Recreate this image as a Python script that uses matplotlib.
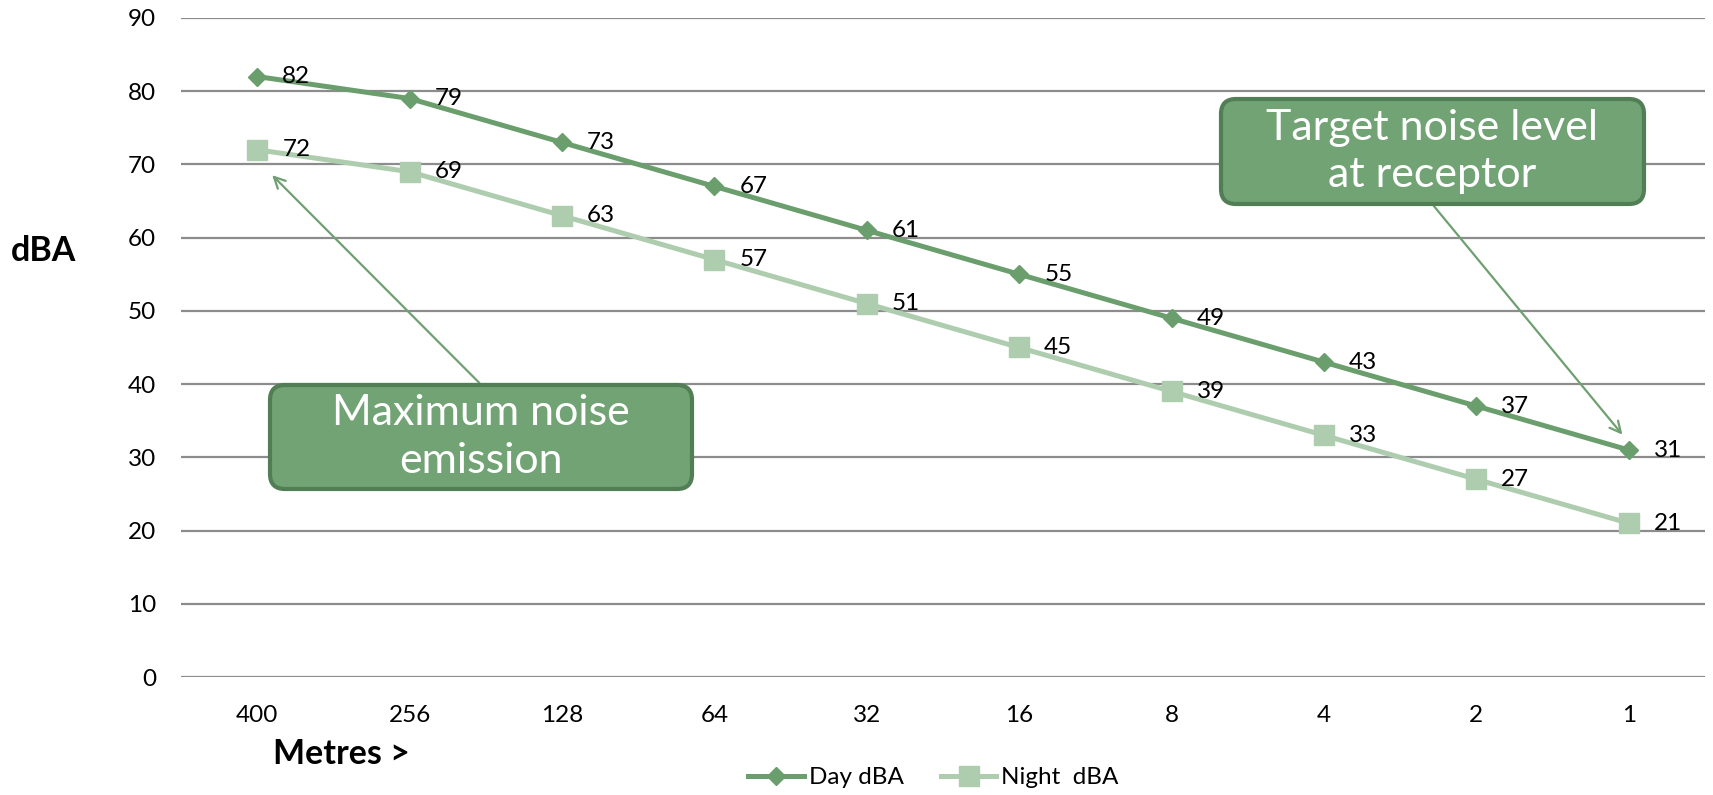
import matplotlib
matplotlib.use('Agg')
import matplotlib.pyplot as plt
from matplotlib.patches import FancyBboxPatch

plt.rcParams['font.family'] = ['Lato', 'DejaVu Sans']

# data
distances = ['400', '256', '128', '64', '32', '16', '8', '4', '2', '1']
day_dba = [82, 79, 73, 67, 61, 55, 49, 43, 37, 31]
night_dba = [72, 69, 63, 57, 51, 45, 39, 33, 27, 21]

day_colour = '#6b9e6d'
night_colour = '#adcdae'
box_fill = '#71a374'
box_edge = '#527e55'

fig = plt.figure(figsize=(17.13, 7.95), dpi=100)
ax = fig.add_axes([0.1057, 0.1484, 0.8896, 0.829])

xs = list(range(len(distances)))
ax.plot(xs, day_dba, color=day_colour, lw=3.6, marker='D', ms=9,
        label='Day dBA', zorder=3)
ax.plot(xs, night_dba, color=night_colour, lw=3.6, marker='s', ms=14,
        label='Night  dBA', zorder=3)

for x, v in zip(xs, day_dba):
    ax.annotate(str(v), (x, v), xytext=(18, 0), textcoords='offset points',
                va='center', ha='left', fontsize=17.5, zorder=4)
for x, v in zip(xs, night_dba):
    ax.annotate(str(v), (x, v), xytext=(18, 0), textcoords='offset points',
                va='center', ha='left', fontsize=17.5, zorder=4)

ax.set_xlim(-0.5, len(distances) - 0.5)
ax.set_ylim(0, 90)
ax.set_yticks(range(0, 91, 10))
ax.set_xticks(xs)
ax.set_xticklabels(distances)
ax.tick_params(axis='both', length=0, labelsize=17.5)
ax.tick_params(axis='y', pad=18)
ax.tick_params(axis='x', pad=20)
ax.grid(axis='y', color='#8c8c8c', lw=1.6)
ax.set_axisbelow(True)
for s in ax.spines.values():
    s.set_visible(False)

fig.text(11 / 1713, 1 - 251 / 795, 'dBA', fontsize=24.5, fontweight='bold',
         ha='left', va='center')
fig.text(273 / 1713, 1 - 754 / 795, 'Metres >', fontsize=24.5, fontweight='bold',
         ha='left', va='center')

fig.legend(loc='center', bbox_to_anchor=(0.545, 0.0214), ncol=2, frameon=False,
           fontsize=17.5, handlelength=2.3, handletextpad=0.2, columnspacing=1.5)

# call-out boxes, drawn in inches so the corners stay round
for left, bottom, w, h, txt in [(2.70, 3.06, 4.22, 1.04, 'Maximum noise\nemission'),
                                (12.21, 5.91, 4.23, 1.05, 'Target noise level\nat receptor')]:
    box = FancyBboxPatch((left, bottom), w, h,
                         boxstyle='round,pad=0,rounding_size=0.15',
                         transform=fig.dpi_scale_trans, fc=box_fill, ec=box_edge,
                         lw=3, zorder=5)
    fig.add_artist(box)
    fig.text((left + w / 2) * 100 / 1713, (bottom + h / 2) * 100 / 795, txt,
             color='white', fontsize=31, ha='center', va='center',
             linespacing=1.3, zorder=6)

arrow = dict(arrowstyle='->,head_length=0.8,head_width=0.4', color='#6fa071', lw=1.6)
ax.annotate('', xy=(0.085, 68.8), xytext=(1.47, 39.9), arrowprops=arrow)
ax.annotate('', xy=(8.97, 32.8), xytext=(7.71, 64.6), arrowprops=arrow)

fig.savefig('out.png', dpi=100)
